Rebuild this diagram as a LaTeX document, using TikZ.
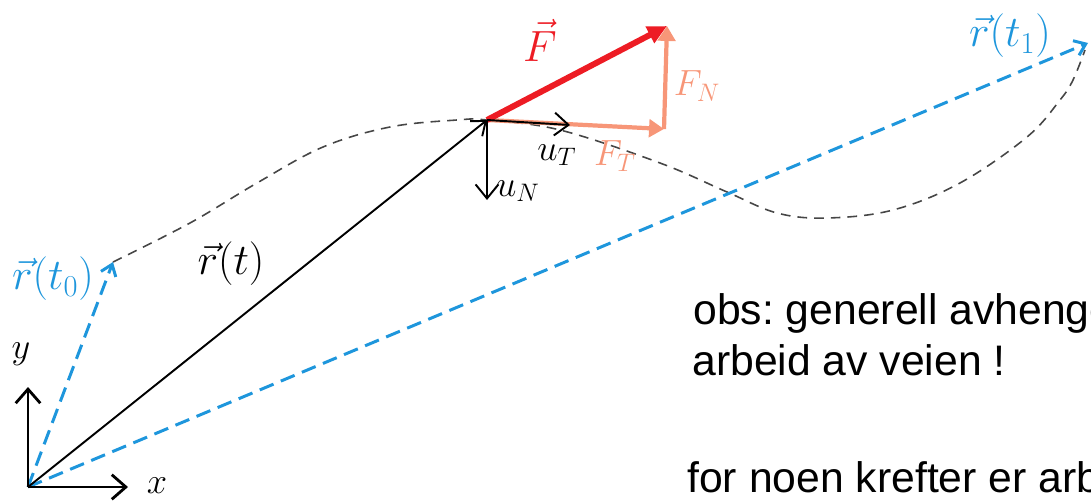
\documentclass[tikz,border=0pt]{standalone}
\usepackage{fontspec}
\newfontfamily\arialfont{Liberation Sans}
\usetikzlibrary{arrows.meta}
\definecolor{rblue}{RGB}{30,150,220}
\definecolor{fred}{RGB}{237,28,36}
\definecolor{fsalmon}{RGB}{247,150,120}
\definecolor{pathgray}{RGB}{70,70,70}
\begin{document}
\frenchspacing
\begin{tikzpicture}[x=0.02cm,y=-0.02cm,
  axisarrow/.style={draw=black,line width=1.6pt,-{Straight Barb[length=8pt,width=14pt]}},
  blackvec/.style={draw=black,line width=1.1pt,-{Straight Barb[length=7pt,width=11pt]}},
  unitvec/.style={draw=black,line width=1.1pt,-{Straight Barb[length=8pt,width=13pt]}},
  bluevec/.style={draw=rblue,line width=1.7pt,dash pattern=on 8.5pt off 4.5pt,-{Straight Barb[length=6pt,width=9pt]}},
  pathcurve/.style={draw=pathgray,line width=0.9pt,dash pattern=on 5.5pt off 4pt},
  forcevec/.style={draw=fred,line width=3.4pt,-{Triangle[length=11pt,width=10pt]}},
  compvec/.style={draw=fsalmon,line width=2.4pt,-{Triangle[length=8.5pt,width=10pt]}},
  lbl/.style={inner sep=0pt,font=\fontsize{24}{28}\selectfont},
  smalllbl/.style={inner sep=0pt,font=\fontsize{21}{25}\selectfont},
  bodytext/.style={inner sep=0pt,anchor=base west,font=\arialfont\fontsize{24.3}{29}\selectfont}
]
\useasboundingbox (0,0) rectangle (1091,500);
\clip (0,0) rectangle (1091,500);

% key points
\coordinate (O) at (28,487);
\coordinate (Xend) at (128,487);
\coordinate (Yend) at (28,387);
\coordinate (R0) at (113,262);
\coordinate (R1) at (1088,43);
\coordinate (P) at (487,120);
\coordinate (Ftip) at (667,26);
\coordinate (FTtip) at (664,129);
\coordinate (UT) at (570,125);
\coordinate (UN) at (487,200);

% path of the particle
\draw[pathcurve] plot[smooth,tension=0.6] coordinates {
  (R0) (190,223) (257,183) (323,147) (390,127) (457,120) (P)
  (560,130) (660,163) (727,192) (777,213) (827,218) (893,210)
  (960,183) (1027,137) (1060,100) (1073,80) (1085,50)};

% position vectors
\draw[bluevec] (O) -- (R0);
\draw[bluevec] (O) -- (R1);
\draw[blackvec] (O) -- (P);

% axes
\draw[axisarrow] (O) -- (Xend);
\draw[axisarrow] (O) -- (Yend);

% force and components
\draw[compvec] (P) -- (FTtip);
\draw[compvec] (FTtip) -- (Ftip);
\draw[forcevec] (P) -- (Ftip);

% unit vectors
\draw[unitvec] (P) -- (UT);
\draw[unitvec] (P) -- (UN);

% labels
\node[smalllbl] (lx) at (157,486) {$x$};
\node[smalllbl] (ly) at (21,354) {$y$};
\node[lbl,text=rblue] (lr0) at (53,279) {$\vec{r}(t_0)$};
\node[lbl] (lrt) at (231,264) {$\vec{r}(t)$};
\node[lbl,text=rblue] (lr1) at (1010,36) {$\vec{r}(t_1)$};
\node[lbl,text=fred,font=\fontsize{29}{33}\selectfont] (lF) at (540,40) {$\vec{F}$};
\node[smalllbl,text=fsalmon] (lFN) at (697,86) {$F_N$};
\node[smalllbl,text=fsalmon] (lFT) at (615,156) {$F_T$};
\node[smalllbl] (luT) at (557,155) {$u_T$};
\node[smalllbl] (luN) at (518,191) {$u_N$};

% text
\node[bodytext] (t1) at (693,324) {obs: generell avhenger};
\node[bodytext] (t2) at (692,375) {arbeid av veien !};
\node[bodytext] (t3) at (687,492) {for noen krefter er arbeid};
\end{tikzpicture}
\end{document}
